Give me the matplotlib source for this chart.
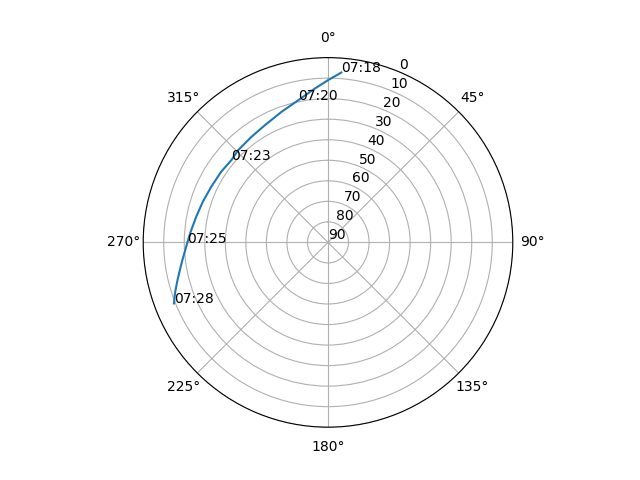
import numpy as np
import matplotlib
matplotlib.use("Agg")
import matplotlib.pyplot as plt

# satellite pass: azimuth (deg) and elevation (deg)
azimuth = [4.5, 0.0, 355.1, 348.1, 340.4, 331.6, 324.0, 315.7, 310.4, 303.4,
           295.4, 288.0, 281.0, 274.4, 269.6, 262.4, 256.5, 252.1, 248.4]
elevation = [7.0, 11.0, 14.8, 19.3, 22.5, 25.2, 26.5, 27.3, 28.2, 27.6,
             27.0, 25.9, 24.6, 22.9, 21.4, 18.2, 14.8, 11.8, 9.3]

# time labels put on some of the points
label_index = [0, 3, 8, 14, 18]
label_text = ["07:18", "07:20", "07:23", "07:25", "07:28"]

fig = plt.figure(figsize=(6.4, 4.8), dpi=100)
ax = fig.add_subplot(111, projection="polar")
ax.set_theta_zero_location("N")
ax.set_theta_direction(-1)

theta = np.radians(azimuth)
ax.plot(theta, elevation)

for i, txt in zip(label_index, label_text):
    ax.text(theta[i], elevation[i], txt)

ax.set_rlim(90, 0)
ax.set_rticks(range(0, 91, 10))

fig.savefig("out.png")
